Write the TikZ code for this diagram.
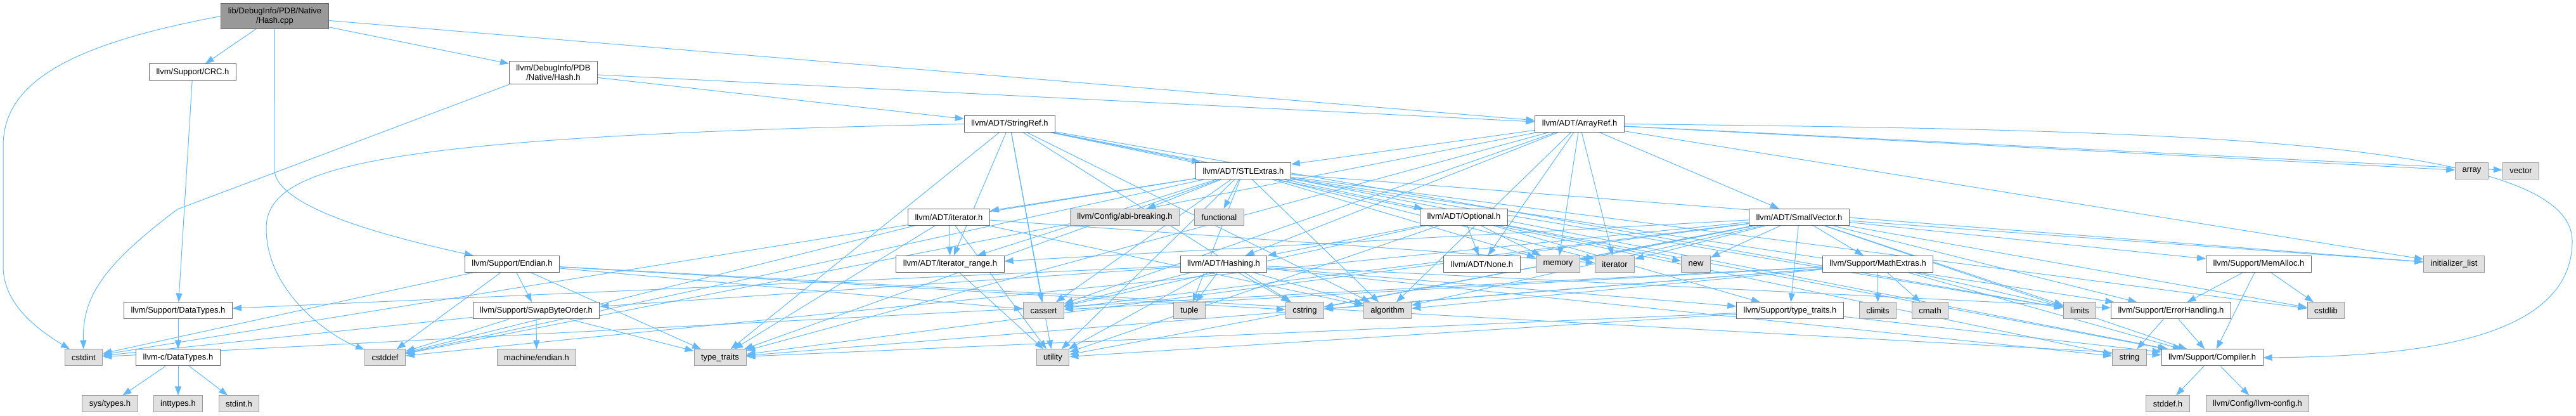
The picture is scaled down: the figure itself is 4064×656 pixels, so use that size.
\documentclass[tikz,border=0pt]{standalone}
\usepackage{fontspec}
\setmainfont{Liberation Sans}
\usepackage{tikz}
\usetikzlibrary{arrows.meta, backgrounds}
\definecolor{edgeblue}{HTML}{63B8FF}
\definecolor{boxgray}{HTML}{666666}
\definecolor{sysgray}{HTML}{999999}
\definecolor{sysfill}{HTML}{E0E0E0}

\begin{document}
\begin{tikzpicture}[x=0.5pt, y=-0.5pt, font=\fontsize{6.5}{7.5}\selectfont,
	hdr/.style={draw=boxgray, fill=white, line width=0.5pt, inner xsep=5.5pt, inner ysep=3pt, minimum height=13pt},
	sys/.style={hdr, draw=sysgray, fill=sysfill},
	rootbox/.style={hdr, fill=sysgray, align=center},
	inc/.style={draw=edgeblue, line width=0.5pt, -{Triangle[length=7pt, width=5pt]}},
	every edge/.style={inc}]
	\useasboundingbox (0,0) rectangle (4064,656);

	% row 1 and 2
	\node[rootbox] (root) at (433.5,25.5) {lib/DebugInfo/PDB/Native\\/Hash.cpp};
	\node[hdr] (crc) at (304,114) {llvm/Support/CRC.h};
	\node[hdr, align=center] (pdbhash) at (873,114.5) {llvm/DebugInfo/PDB\\/Native/Hash.h};
	% ADT headers
	\node[hdr] (stringref) at (1593,195.5) {llvm/ADT/StringRef.h};
	\node[hdr] (arrayref) at (2492,195.5) {llvm/ADT/ArrayRef.h};
	\node[hdr] (stlextras) at (1961.5,269.5) {llvm/ADT/STLExtras.h};
	\node[sys] (arr) at (3899.5,269.5) {array};
	\node[sys] (vec) at (3977,269.5) {vector};
	\node[hdr] (iterh) at (1497,342.5) {llvm/ADT/iterator.h};
	\node[sys] (abibrk) at (1774.5,342.5) {llvm/Config/abi-breaking.h};
	\node[sys] (functional) at (1923.5,342.5) {functional};
	\node[hdr] (optional) at (2309.5,342.5) {llvm/ADT/Optional.h};
	\node[hdr] (smallvec) at (2838.5,342.5) {llvm/ADT/SmallVector.h};
	\node[hdr] (endian) at (808,416.5) {llvm/Support/Endian.h};
	\node[hdr] (iterrange) at (1499,416.5) {llvm/ADT/iterator\_range.h};
	\node[hdr] (hashing) at (1930.5,416.5) {llvm/ADT/Hashing.h};
	\node[hdr] (noneh) at (2338,416.5) {llvm/ADT/None.h};
	\node[sys] (memory) at (2458,416.5) {memory};
	\node[sys] (iterstd) at (2547.5,416.5) {iterator};
	\node[sys] (newh) at (2675.5,416.5) {new};
	\node[hdr] (mathext) at (2962.5,416.5) {llvm/Support/MathExtras.h};
	\node[hdr] (memalloc) at (3563.5,416.5) {llvm/Support/MemAlloc.h};
	\node[sys] (initlist) at (3871.5,416.5) {initializer\_list};
	% support headers and system headers
	\node[hdr] (datatypes) at (281,490) {llvm/Support/DataTypes.h};
	\node[hdr] (swapbyte) at (846,490) {llvm/Support/SwapByteOrder.h};
	\node[sys] (cassert) at (1646.5,490) {cassert};
	\node[sys] (tuple) at (1876.5,490) {tuple};
	\node[sys] (cstring) at (2058.5,490) {cstring};
	\node[sys] (algorithm) at (2189,490) {algorithm};
	\node[hdr] (typetraitsh) at (2824,490) {llvm/Support/type\_traits.h};
	\node[sys] (climits) at (2962.5,490) {climits};
	\node[sys] (cmath) at (3045,490) {cmath};
	\node[sys] (limits) at (3281,490) {limits};
	\node[hdr] (errhandling) at (3425,490) {llvm/Support/ErrorHandling.h};
	\node[sys] (cstdlib) at (3669.5,490) {cstdlib};
	\node[sys] (cstdint) at (132,564) {cstdint};
	\node[hdr] (cdatatypes) at (281,564) {llvm-c/DataTypes.h};
	\node[sys] (cstddef) at (607.5,564) {cstddef};
	\node[sys] (machendian) at (846.5,564) {machine/endian.h};
	\node[sys] (typetraits) at (1136,564) {type\_traits};
	\node[sys] (utility) at (1661,564) {utility};
	\node[sys] (string) at (3359.5,564) {string};
	\node[hdr] (compiler) at (3490,564) {llvm/Support/Compiler.h};
	\node[sys] (systypes) at (173.5,637) {sys/types.h};
	\node[sys] (inttypes) at (281,637) {inttypes.h};
	\node[sys] (stdinth) at (377,637) {stdint.h};
	\node[sys] (stddefh) at (3420,637) {stddef.h};
	\node[sys] (llvmconfig) at (3561.5,637) {llvm/Config/llvm-config.h};

	\begin{pgfonlayer}{background}
	% includes, one path per header
	\path (root) edge (pdbhash) edge (arrayref) edge (crc);
	\draw[inc] (root.south) -- (433,270) .. controls (440,330) and (620,375) .. (endian);
	\draw[inc] (root.west) .. controls (110,70) and (5,130) .. (5,230) -- (5,420) .. controls (5,480) and (60,520) .. (cstdint);
	\path (pdbhash) edge (arrayref) edge (stringref);
	\draw[inc] (pdbhash.south west) -- (280,330) .. controls (160,420) and (130,470) .. (cstdint);
	\path (crc) edge (datatypes);
	\path (datatypes) edge (cdatatypes);
	\path (cdatatypes) edge (systypes) edge (inttypes) edge (stdinth);
	\path (endian) edge (compiler) edge (swapbyte) edge (cassert) edge (cstddef)
		edge (cstdint) edge (cstring) edge (typetraits);
	\path (swapbyte) edge (machendian) edge (typetraits) edge (cstddef) edge (cstdint);
	\path (stringref) edge (stlextras) edge (iterrange) edge (compiler) edge (algorithm)
		edge (cassert) edge (cstring) edge (limits) edge (string)
		edge (typetraits) edge (utility);
	\draw[inc] (stringref.west) .. controls (600,215) and (420,260) .. (420,360) .. controls (420,460) and (520,530) .. (cstddef);
	\path (arrayref) edge (hashing) edge (noneh) edge (smallvec) edge (stlextras)
		edge (algorithm) edge (arr) edge (cassert) edge (cstddef) edge (initlist)
		edge (iterstd) edge (memory) edge (typetraits) edge (vec);
	\draw[inc] (arrayref.east) .. controls (3400,205) and (4058,215) .. (4058,380) .. controls (4058,540) and (3800,562) .. (compiler.east);
	\path (stlextras) edge (optional) edge (iterh) edge (iterrange) edge (abibrk)
		edge (errhandling) edge (algorithm) edge (cassert) edge (cstddef) edge (cstdint)
		edge (cstdlib) edge (functional) edge (initlist) edge (iterstd) edge (limits)
		edge (memory) edge (tuple) edge (typetraits) edge (utility);
	\path (optional) edge (hashing) edge (noneh) edge (compiler) edge (typetraitsh)
		edge (cassert) edge (memory) edge (newh) edge (utility);
	\path (iterh) edge (iterrange) edge (algorithm) edge (cstddef) edge (iterstd)
		edge (typetraits) edge (utility);
	\path (iterrange) edge (utility);
	\path (hashing) edge (datatypes) edge (errhandling) edge (swapbyte) edge (typetraitsh)
		edge (algorithm) edge (cassert) edge (cstring) edge (string) edge (tuple) edge (utility);
	\path (smallvec) edge (iterrange) edge (compiler) edge (errhandling) edge (mathext)
		edge (memalloc) edge (typetraitsh) edge (algorithm) edge (cassert) edge (cstddef)
		edge (cstdlib) edge (cstring) edge (initlist) edge (iterstd) edge (limits)
		edge (memory) edge (newh) edge (typetraits) edge (utility);
	\path (mathext) edge (compiler) edge (algorithm) edge (cassert) edge (climits)
		edge (cmath) edge (cstdint) edge (cstring) edge (limits) edge (typetraits);
	\path (memalloc) edge (compiler) edge (errhandling) edge (cstdlib);
	\path (errhandling) edge (compiler) edge (string);
	\path (typetraitsh) edge (compiler) edge (typetraits) edge (utility);
	\path (compiler) edge (llvmconfig) edge (stddefh);
	\end{pgfonlayer}
\end{tikzpicture}
\end{document}
